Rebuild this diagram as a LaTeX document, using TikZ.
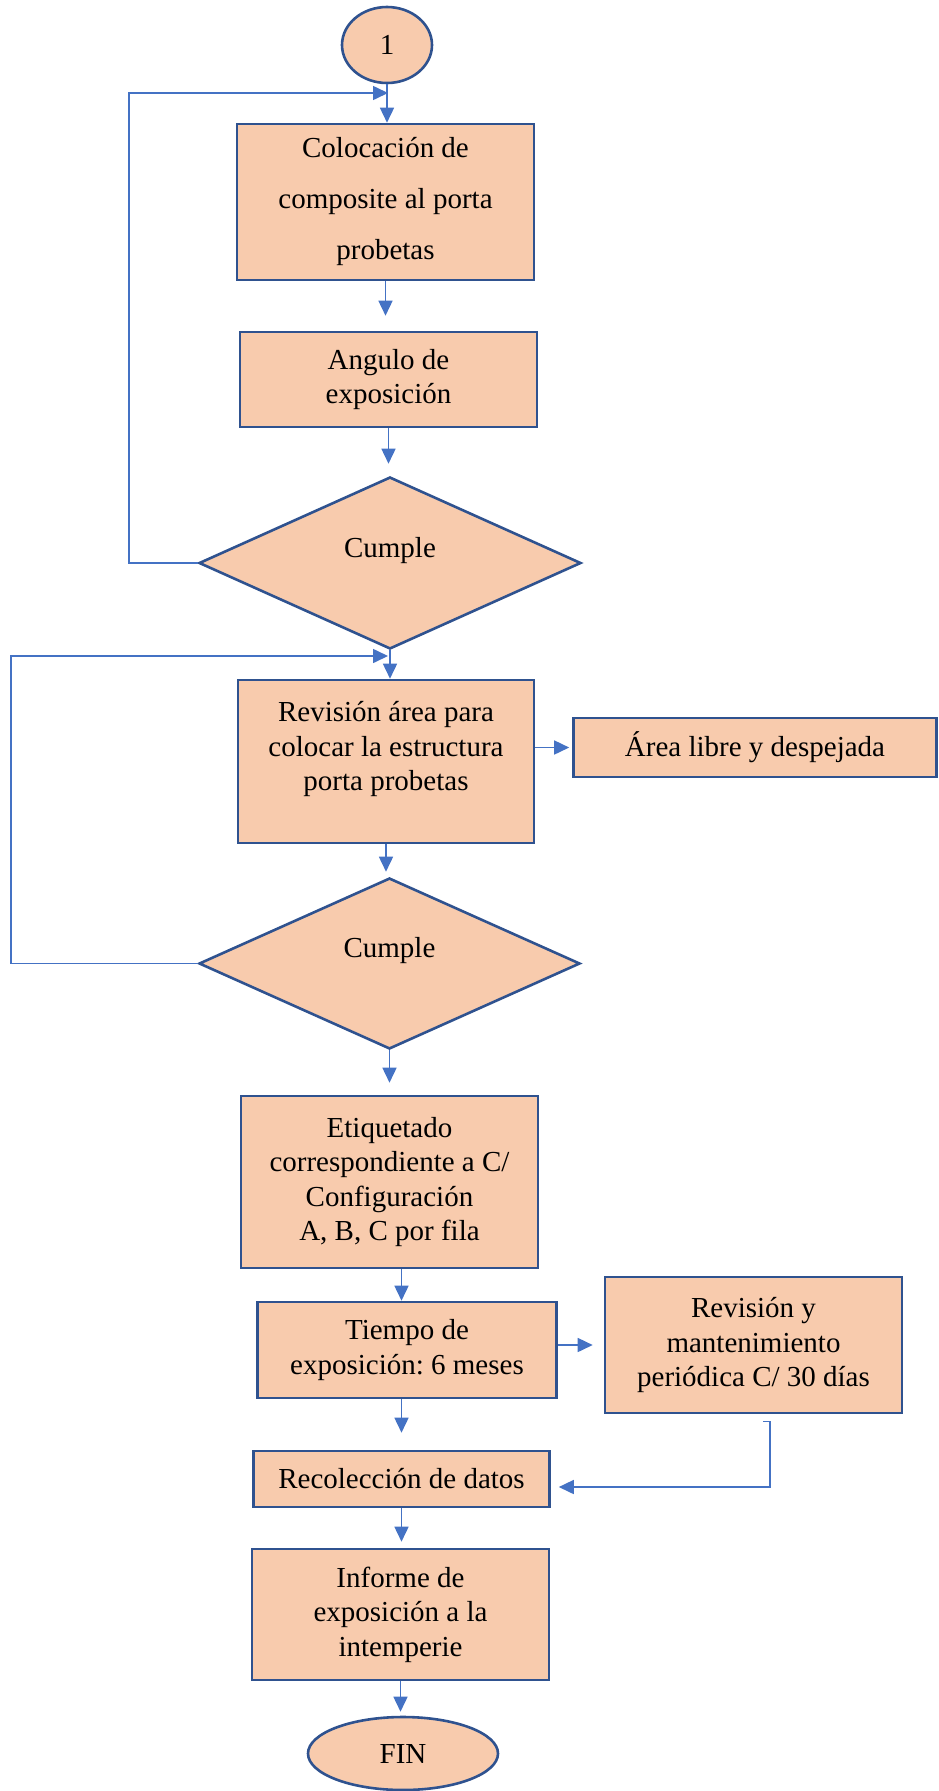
\documentclass[tikz,border=0pt]{standalone}
\usepackage{fontspec}
\setmainfont{Liberation Serif}
\newfontfamily\flowfont{Liberation Serif}
\usetikzlibrary{arrows.meta,calc,shapes.geometric}
\definecolor{boxfill}{HTML}{F8CBAD}
\definecolor{boxline}{HTML}{2F528F}
\definecolor{linkblue}{HTML}{4472C4}
\frenchspacing

\begin{document}
\begin{tikzpicture}[x=1pt,y=-1pt,>={Triangle[length=15pt,width=14pt]}]
			\tikzstyle{proc}=[draw=boxline, line width=2.6pt, fill=boxfill, inner sep=0pt, align=center, font=\flowfont\fontsize{29}{34.5}\selectfont]
			\tikzstyle{decision}=[proc, diamond, text depth=32pt]
			\tikzstyle{terminal}=[proc, ellipse]
			\tikzstyle{link}=[draw=linkblue, line width=1.6pt, ->]

			\useasboundingbox (0,0) rectangle (939,1791);

			\node (start) [terminal, minimum width=90pt, minimum height=76pt] at (387,45) {1};
			\node (place) [proc, minimum width=297pt, minimum height=156pt, font=\flowfont\fontsize{29}{51}\selectfont] at (385.5,202) {Colocación de\\composite al porta\\probetas};
			\node (angle) [proc, minimum width=297pt, minimum height=95pt] at (388.5,379.5) {Angulo de\\exposición};
			\node (check1) [decision, minimum width=382pt, minimum height=172pt] at (390,563) {Cumple};
			\node (area) [proc, minimum width=296pt, minimum height=163pt, text depth=31pt] at (386,761.5) {Revisión área para\\colocar la estructura\\porta probetas};
			\node (free) [proc, minimum width=363pt, minimum height=59pt] at (755,747.5) {Área libre y despejada};
			\node (check2) [decision, minimum width=381pt, minimum height=171pt] at (389.5,963.5) {Cumple};
			\node (label) [proc, minimum width=297pt, minimum height=172pt] at (389.5,1182) {Etiquetado\\correspondiente a C/\\Configuración\\A, B, C por fila};
			\node (expo) [proc, minimum width=299pt, minimum height=96pt] at (407,1350) {Tiempo de\\exposición: 6 meses};
			\node (maint) [proc, minimum width=297pt, minimum height=136pt] at (753.5,1345) {Revisión y\\mantenimiento\\periódica C/ 30 días};
			\node (data) [proc, minimum width=296pt, minimum height=56pt] at (401.5,1479) {Recolección de datos};
			\node (report) [proc, minimum width=297pt, minimum height=131pt] at (400.5,1614.5) {Informe de\\exposición a la\\intemperie};
			\node (end) [terminal, minimum width=190pt, minimum height=73pt] at (403,1753.5) {FIN};

			\coordinate (join1) at (388,93);
			\coordinate (join2) at (388,656);

			\draw [link] (start.south) -- (start.south |- place.north);
			\draw [link, shorten >=15pt] (place.south) -- (place.south |- angle.north);
			\draw [link, shorten >=12pt] (angle.south) -- (angle.south |- check1.north);
			\draw [link] (check1.west) -- ++(-69,0) |- (join1);
			\draw [link] (check1.south) -- (check1.south |- area.north);
			\draw [link] (check2.west) -- ++(-187,0) |- (join2);
			\draw [link, shorten >=3pt] (area.east |- free.west) -- (free.west);
			\draw [link, shorten >=5pt] (area.south) -- (area.south |- check2.north);
			\draw [link, shorten >=12pt] (check2.south) -- (check2.south |- label.north);
			\draw [link] (label.south -| data) -- (expo.north -| data);
			\draw [link, shorten >=11pt] (expo.east |- maint.west) -- (maint.west);
			\draw [link, shorten >=17pt] (expo.south -| data) -- (data.north);
			\draw [link, shorten >=8pt] ([xshift=9.5pt,yshift=-7pt]maint.south) -- ++(7,0) |- ([yshift=-8pt]data.east);
			\draw [link, shorten >=6pt] (data.south) -- (data.south |- report.north);
			\draw [link, shorten >=4pt] (report.south) -- (report.south |- end.north);
		\end{tikzpicture}
\end{document}
